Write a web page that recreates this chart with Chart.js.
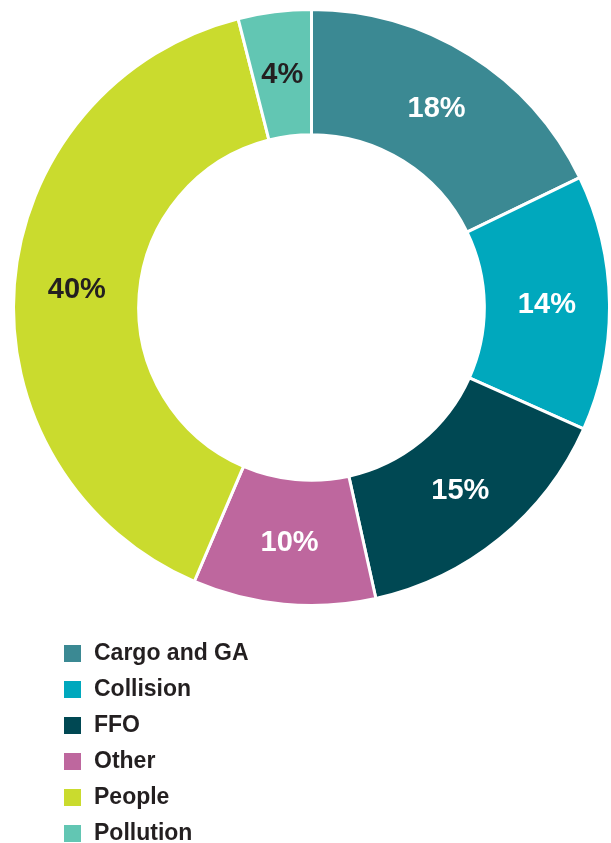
<!DOCTYPE html>
<html>
<head>
<meta charset="utf-8">
<script src="https://cdn.jsdelivr.net/npm/chart.js@4"></script>
<style>
html,body{margin:0;padding:0;background:#fff;}
#wrap{width:611px;height:843px;position:relative;}
</style>
</head>
<body>
<div id="wrap"><canvas id="c" width="611" height="843"></canvas></div>
<script>
const categories = ['Cargo and GA', 'Collision', 'FFO', 'Other', 'People', 'Pollution'];
const values = [18, 14, 15, 10, 40, 4];
const labelsText = ['18%', '14%', '15%', '10%', '40%', '4%'];
const colors = ['#3b8993', '#00a8bd', '#004853', '#be679e', '#cadb2e', '#62c6b3'];
const labelColors = ['#ffffff', '#ffffff', '#ffffff', '#ffffff', '#231f20', '#231f20'];

const sliceLabels = {
  id: 'sliceLabels',
  afterDatasetsDraw(chart) {
    const ctx = chart.ctx;
    const meta = chart.getDatasetMeta(0);
    ctx.save();
    ctx.font = 'bold 29px "Liberation Sans", Arial, sans-serif';
    ctx.textAlign = 'center';
    ctx.textBaseline = 'middle';
    meta.data.forEach((arc, i) => {
      const p = arc.tooltipPosition();
      ctx.fillStyle = labelColors[i];
      ctx.fillText(labelsText[i], p.x, p.y + 1);
    });
    ctx.restore();
  }
};

const customLegend = {
  id: 'customLegend',
  afterDraw(chart) {
    const ctx = chart.ctx;
    ctx.save();
    ctx.font = 'bold 23px "Liberation Sans", Arial, sans-serif';
    ctx.textBaseline = 'middle';
    ctx.textAlign = 'left';
    chart.data.labels.forEach((lab, i) => {
      const y = 645 + i * 36;
      ctx.fillStyle = chart.data.datasets[0].backgroundColor[i];
      ctx.fillRect(64, y, 17, 17);
      ctx.fillStyle = '#231f20';
      ctx.fillText(lab, 94, y + 9);
    });
    ctx.restore();
  }
};

new Chart(document.getElementById('c'), {
  type: 'doughnut',
  data: {
    labels: categories,
    datasets: [{
      data: values,
      backgroundColor: colors,
      borderColor: '#ffffff',
      borderWidth: 3,
      hoverOffset: 0
    }]
  },
  options: {
    responsive: false,
    animation: false,
    cutout: '58%',
    layout: { padding: { left: 12, right: 0, top: 8, bottom: 236 } },
    plugins: {
      legend: { display: false },
      tooltip: { enabled: false }
    }
  },
  plugins: [sliceLabels, customLegend]
});
</script>
</body>
</html>
